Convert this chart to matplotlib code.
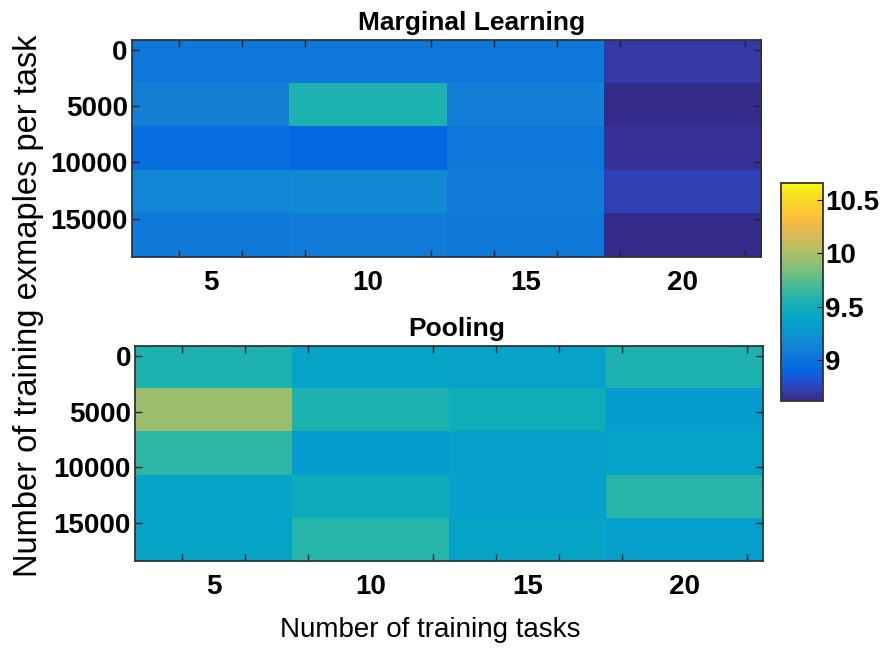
import numpy as np
import matplotlib.pyplot as plt
from matplotlib.colors import LinearSegmentedColormap

plt.rcParams['font.family'] = ['Liberation Sans', 'DejaVu Sans']

# data
tasks = [5, 10, 15, 20]
examples = [0, 5000, 10000, 15000]
row_centers = [1000, 4875, 8750, 12625, 16500]

marginal = np.array([
    [9.04, 9.04, 9.04, 8.70],
    [9.11, 9.56, 9.10, 8.63],
    [8.96, 8.92, 9.04, 8.66],
    [9.15, 9.17, 9.06, 8.74],
    [9.05, 9.08, 9.05, 8.63],
])
pooling = np.array([
    [9.56, 9.38, 9.36, 9.56],
    [9.95, 9.56, 9.49, 9.30],
    [9.62, 9.30, 9.34, 9.38],
    [9.38, 9.48, 9.35, 9.60],
    [9.38, 9.60, 9.38, 9.33],
])
cticks = [9, 9.5, 10, 10.5]
vmin, vmax = 8.62, 10.66

# parula-like colormap, anchors taken every 3rd entry of the 64 colour table
parula_pts = [
    (0.2081, 0.1663, 0.5292), (0.2081, 0.2386, 0.6771),
    (0.1253, 0.3242, 0.8303), (0.0060, 0.4086, 0.8828),
    (0.0499, 0.4586, 0.8641), (0.0779, 0.5040, 0.8384),
    (0.0641, 0.5570, 0.8240), (0.0265, 0.6137, 0.8135),
    (0.0228, 0.6535, 0.7768), (0.0590, 0.6838, 0.7254),
    (0.1453, 0.7098, 0.6646), (0.2586, 0.7317, 0.5954),
    (0.3953, 0.7459, 0.5244), (0.5300, 0.7491, 0.4661),
    (0.6473, 0.7456, 0.4188), (0.7525, 0.7384, 0.3768),
    (0.8507, 0.7299, 0.3360), (0.9450, 0.7261, 0.2886),
    (0.9990, 0.7653, 0.2164), (0.9788, 0.8271, 0.1633),
    (0.9589, 0.8949, 0.1132), (0.9763, 0.9831, 0.0538),
]
pos = [0, 3, 6, 9, 12, 15, 18, 21, 24, 27, 30, 33, 36, 39, 42, 45,
       48, 51, 54, 57, 60, 63]
parula = LinearSegmentedColormap.from_list(
    'parula', [(p / 63, c) for p, c in zip(pos, parula_pts)])

fig = plt.figure(figsize=(8.83, 6.51), dpi=100)
ax1 = fig.add_axes([0.1495, 0.6052, 0.7125, 0.3334])
ax2 = fig.add_axes([0.1530, 0.1382, 0.7110, 0.3303])
cax = fig.add_axes([0.8840, 0.3840, 0.0476, 0.3350])

half_w = (tasks[1] - tasks[0]) / 2
half_h = (row_centers[1] - row_centers[0]) / 2
ext = [tasks[0] - half_w, tasks[-1] + half_w,
       row_centers[-1] + half_h, row_centers[0] - half_h]

for ax, data, title, tx in [(ax1, marginal, 'Marginal Learning', 0.54),
                            (ax2, pooling, 'Pooling', 0.513)]:
    im = ax.imshow(data, cmap=parula, vmin=vmin, vmax=vmax,
                   extent=ext, aspect='auto', interpolation='nearest')
    ax.set_title(title, fontsize=19, fontweight='bold', pad=7, x=tx)
    ax.set_xticks(tasks)
    ax.set_xticks(np.arange(4, 23, 2), minor=True)
    ax.set_yticks(examples)
    ax.set_yticklabels([str(e) for e in examples])
    ax.tick_params(axis='x', which='major', length=0, pad=9,
                   labelsize=20)
    ax.tick_params(axis='x', which='minor', direction='in', length=5,
                   top=True, bottom=True, width=1, color='#222222')
    ax.tick_params(axis='y', which='major', direction='in', length=5,
                   left=True, right=True, width=1, color='#222222',
                   labelsize=20, pad=3)
    for lab in ax.get_xticklabels() + ax.get_yticklabels():
        lab.set_fontweight('bold')
    for sp in ax.spines.values():
        sp.set_color('#333333')
        sp.set_linewidth(1.3)

cb = fig.colorbar(im, cax=cax, ticks=cticks)
cb.ax.set_yticklabels(['9', '9.5', '10', '10.5'])
cb.ax.tick_params(direction='in', length=4, labelsize=20, pad=2)
for lab in cb.ax.get_yticklabels():
    lab.set_fontweight('bold')
cb.outline.set_edgecolor('#333333')
cb.outline.set_linewidth(1.3)

fig.text(0.032, 0.530, 'Number of training exmaples per task',
         rotation=90, ha='center', va='center', fontsize=23.5)
fig.text(0.487, 0.032, 'Number of training tasks',
         ha='center', va='center', fontsize=20)

fig.savefig('out.png', dpi=100)
